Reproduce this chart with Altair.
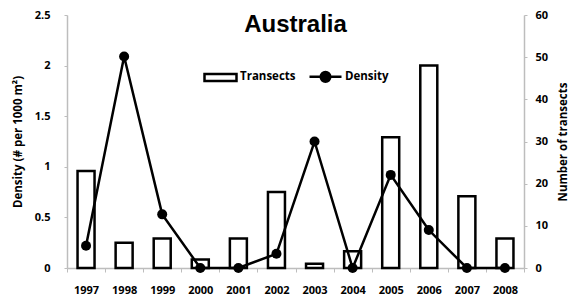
import altair as alt
import pandas as pd

years = ["1997", "1998", "1999", "2000", "2001", "2002", "2003", "2004", "2005", "2006", "2007", "2008"]
transects = [23, 6, 7, 2, 7, 18, 1, 4, 31, 48, 17, 7]
density = [0.22, 2.09, 0.53, 0, 0, 0.14, 1.25, 0, 0.92, 0.375, 0, 0]
series_names = ["Transects", "Density"]
density_ticks = [0, 0.5, 1, 1.5, 2, 2.5]
transect_ticks = [0, 10, 20, 30, 40, 50, 60]

df = pd.DataFrame({"year": years, "transects": transects, "density": density})
legend_df = pd.DataFrame({"series": series_names})

FONT = "Open Sans"
GRID = "#bdbdbd"

x_enc = alt.X(
    "year:N",
    sort=years,
    scale=alt.Scale(paddingInner=0, paddingOuter=0),
    axis=alt.Axis(
        title=None, labelAngle=0, labelFont=FONT, labelFontSize=11, labelFontWeight="bold",
        labelColor="black", labelPadding=12, tickBand="extent", tickSize=4, tickColor=GRID,
        domainColor=GRID, domainWidth=1.5, grid=False,
    ),
)

bars = alt.Chart(df).mark_bar(fill="white", stroke="black", strokeWidth=2.5, size=17).encode(
    x=x_enc,
    y=alt.Y(
        "transects:Q",
        scale=alt.Scale(domain=[0, 60], nice=False),
        axis=alt.Axis(
            orient="right", values=transect_ticks, title="Number of transects",
            titleFont=FONT, titleFontSize=11.5, titleFontWeight="bold", titleColor="black",
            titleAngle=270, titleX=39, titleY=126.5, titleBaseline="middle", titleAlign="center",
            labelFont=FONT, labelFontSize=11, labelFontWeight="bold", labelColor="black",
            labelPadding=8, tickSize=3, tickColor=GRID, domainColor=GRID, domainWidth=1.5, grid=False,
        ),
    ),
)

line = alt.Chart(df).mark_line(
    color="black", strokeWidth=2.5,
    point=alt.OverlayMarkDef(filled=True, fill="black", size=100),
).encode(
    x=alt.X("year:N", sort=years),
    y=alt.Y(
        "density:Q",
        scale=alt.Scale(domain=[0, 2.5], nice=False),
        axis=alt.Axis(
            orient="left", values=density_ticks, format="~g", title="Density (# per 1000 m²)",
            titleFont=FONT, titleFontSize=11.5, titleFontWeight="bold", titleColor="black",
            titleAngle=270, titleX=-49, titleY=126.5, titleBaseline="middle", titleAlign="center",
            labelFont=FONT, labelFontSize=11, labelFontWeight="bold", labelColor="black",
            labelPadding=14, tickSize=3, tickColor=GRID, domainColor=GRID, domainWidth=1.5, grid=False,
        ),
    ),
)

rect_path = "M-1,-0.22H1V0.22H-1Z"
line_dot_path = "M-1,0H1M0.3,0A0.3,0.3,0,1,1,-0.3,0A0.3,0.3,0,1,1,0.3,0Z"

legend_layer = alt.Chart(legend_df).mark_point(filled=True, opacity=0).encode(
    shape=alt.Shape("series:N", title=None,
                    scale=alt.Scale(domain=series_names, range=[rect_path, line_dot_path])),
    fill=alt.Fill("series:N", title=None,
                  scale=alt.Scale(domain=series_names, range=["white", "black"])),
    stroke=alt.Stroke("series:N", title=None,
                      scale=alt.Scale(domain=series_names, range=["black", "black"])),
)

chart = alt.layer(bars, line, legend_layer).resolve_scale(y="independent").properties(
    width=457,
    height=253,
    autosize=alt.AutoSizeParams(type="none"),
    padding={"left": 59, "top": 7, "right": 45, "bottom": 28},
    title=alt.TitleParams(
        "Australia", font="Liberation Sans", fontSize=24, fontWeight="bold", color="black",
        anchor="middle", baseline="alphabetic", offset=0, dy=47,
    ),
).configure_view(stroke=None).configure_legend(
    orient="none", legendX=136, legendY=44, direction="horizontal", padding=0,
    symbolSize=1024, symbolStrokeColor="black", symbolStrokeWidth=2.5, symbolOpacity=1,
    labelFont=FONT, labelFontSize=11.5, labelFontWeight="bold", labelColor="black",
    labelOffset=2, columnPadding=8,
)

chart.save("out.html", embed_options={"renderer": "svg", "actions": False})
